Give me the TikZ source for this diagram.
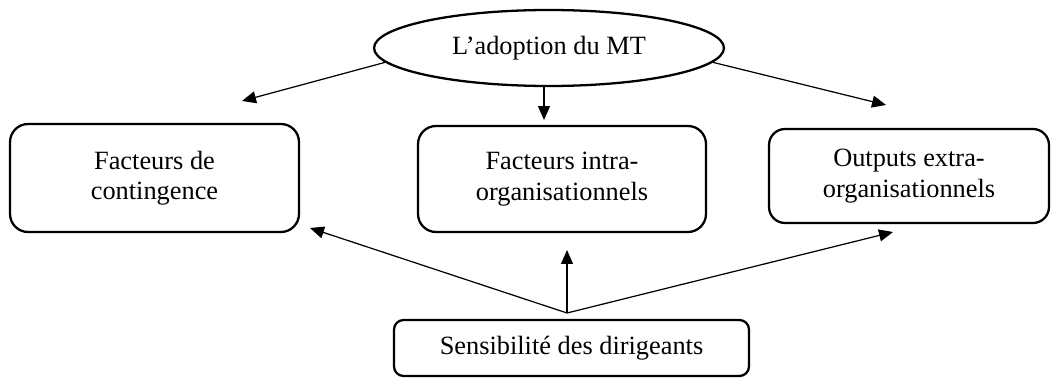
\documentclass[tikz,border=0pt]{standalone}
\usepackage{fontspec}
\setmainfont{Liberation Serif}
\usetikzlibrary{shapes.geometric,arrows.meta}

\begin{document}
\begin{tikzpicture}[x=0.02cm,y=-0.02cm,
  font=\fontsize{15}{17.3}\selectfont,
  box/.style={draw,line width=1.3pt,align=center,inner sep=0pt},
  oval/.style={draw,ellipse,line width=1.3pt,inner sep=0pt,minimum width=7cm,minimum height=1.52cm},
  arr/.style={line width=0.7pt,-{Triangle[length=0.28cm,width=0.24cm]}}]
\useasboundingbox (0,0) rectangle (1051,378);
\node[oval] (mt) at (549,48) {L’adoption du MT};
\node[box,rounded corners=0.36cm,minimum width=5.78cm,minimum height=2.16cm] (contingence) at (154.5,178) {Facteurs de\\contingence};
\node[box,rounded corners=0.36cm,minimum width=5.76cm,minimum height=2.12cm] (intra) at (562,179) {Facteurs intra-\\organisationnels};
\node[box,rounded corners=0.32cm,minimum width=5.6cm,minimum height=1.88cm] (extra) at (909,176) {Outputs extra-\\organisationnels};
\node[box,rounded corners=0.19cm,minimum width=7.1cm,minimum height=1.12cm] (dirigeants) at (571.5,348) {Sensibilité des dirigeants};

\coordinate (tl) at (242,101);
\coordinate (tm) at (544,120);
\coordinate (tr) at (886,105);
\coordinate (src) at (567,313);
\coordinate (bl) at (310,228);
\coordinate (bm) at (567,250);
\coordinate (br) at (893,232);

\draw[arr] (mt.185) -- (tl);
\draw[arr] (mt.south -| tm) -- (tm);
\draw[arr] (mt.-5) -- (tr);
\foreach \t in {bl,bm,br}
  \draw[arr] (src) -- (\t);
\end{tikzpicture}
\end{document}
